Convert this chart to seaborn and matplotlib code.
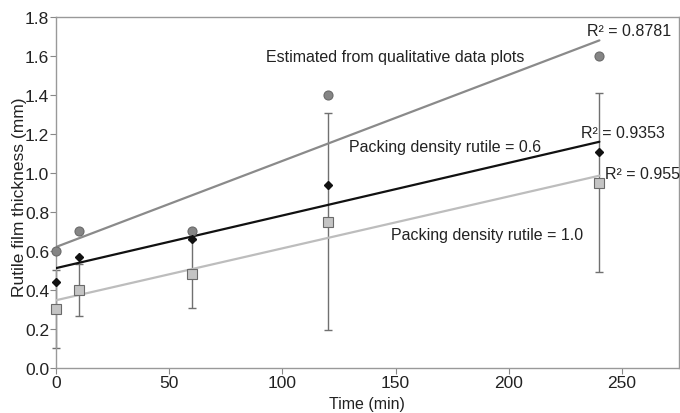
import numpy as np
import pandas as pd
import matplotlib
matplotlib.use("Agg")
import matplotlib.pyplot as plt
import seaborn as sns

# Data
time_min = [0, 10, 60, 120, 240]
qualitative = [0.60, 0.70, 0.70, 1.40, 1.60]
density_06 = [0.44, 0.57, 0.66, 0.94, 1.11]
density_10 = [0.30, 0.40, 0.48, 0.75, 0.95]
density_10_err = [0.20, 0.135, 0.175, 0.555, 0.46]
x_ticks = [0, 50, 100, 150, 200, 250]
y_ticks = [0.0, 0.2, 0.4, 0.6, 0.8, 1.0, 1.2, 1.4, 1.6, 1.8]

sns.set_theme(style="white")
plt.rcParams['font.family'] = ['Liberation Sans', 'DejaVu Sans']

df = pd.DataFrame({"t": time_min, "q": qualitative, "d6": density_06, "d10": density_10})

fig = plt.figure(figsize=(6.8, 4.14), dpi=100)
ax = fig.add_axes([0.0824, 0.109, 0.9156, 0.8475])

# error bars
eb = ax.errorbar(time_min, density_10, yerr=density_10_err, fmt='none', ecolor='#707070',
                 elinewidth=1.0, capsize=3, capthick=1.0, zorder=2)
for art in eb.lines[1] + eb.lines[2]:
    art.set_clip_on(False)

# trend lines
sns.regplot(data=df, x="t", y="q", scatter=False, ci=None, truncate=True, ax=ax,
            line_kws=dict(color='#8a8a8a', lw=1.6, zorder=3))
sns.regplot(data=df, x="t", y="d6", scatter=False, ci=None, truncate=True, ax=ax,
            line_kws=dict(color='#111111', lw=1.6, zorder=3))
sns.regplot(data=df, x="t", y="d10", scatter=False, ci=None, truncate=True, ax=ax,
            line_kws=dict(color='#bdbdbd', lw=1.6, zorder=3))

# markers
ax.plot(time_min, qualitative, 'o', ms=6.5, mfc='#858585', mec='#6a6a6a', mew=0.8, zorder=4, clip_on=False)
ax.plot(time_min, density_06, 'D', ms=4.5, mfc='#111111', mec='#111111', zorder=5, clip_on=False)
ax.plot(time_min, density_10, 's', ms=6.5, mfc='#c4c4c4', mec='#6a6a6a', mew=0.8, zorder=5, clip_on=False)

ax.set_xlim(0, 275)
ax.set_ylim(0, 1.8)
ax.set_xticks(x_ticks)
ax.set_yticks(y_ticks)
ax.set_yticklabels([f"{v:.1f}" for v in y_ticks])
ax.tick_params(axis='both', labelsize=12.5, colors='#222222', length=4, width=0.8,
               direction='out', bottom=True, left=True, pad=1)
ax.tick_params(axis='both', color='#888888')
for s in ax.spines.values():
    s.set_color('#999999')
    s.set_linewidth(1.0)

ax.set_xlabel("Time (min)", fontsize=11.5, color='#222222', labelpad=4.5)
ax.set_ylabel("Rutile film thickness (mm)", fontsize=12.5, color='#222222', labelpad=0)
ax.yaxis.set_label_coords(-0.047, 0.49)

tk = dict(fontsize=11.5, color='#222222', va='center', ha='left')
ax.text(92.8, 1.595, "Estimated from qualitative data plots", **tk)
ax.text(129.4, 1.135, "Packing density rutile = 0.6", **tk)
ax.text(147.8, 0.684, "Packing density rutile = 1.0", **tk)
ax.text(234.4, 1.73, "R² = 0.8781", **tk)
ax.text(231.7, 1.205, "R² = 0.9353", **tk)
ax.text(242.5, 0.995, "R² = 0.955", **tk)

fig.savefig("out.png", dpi=100)
